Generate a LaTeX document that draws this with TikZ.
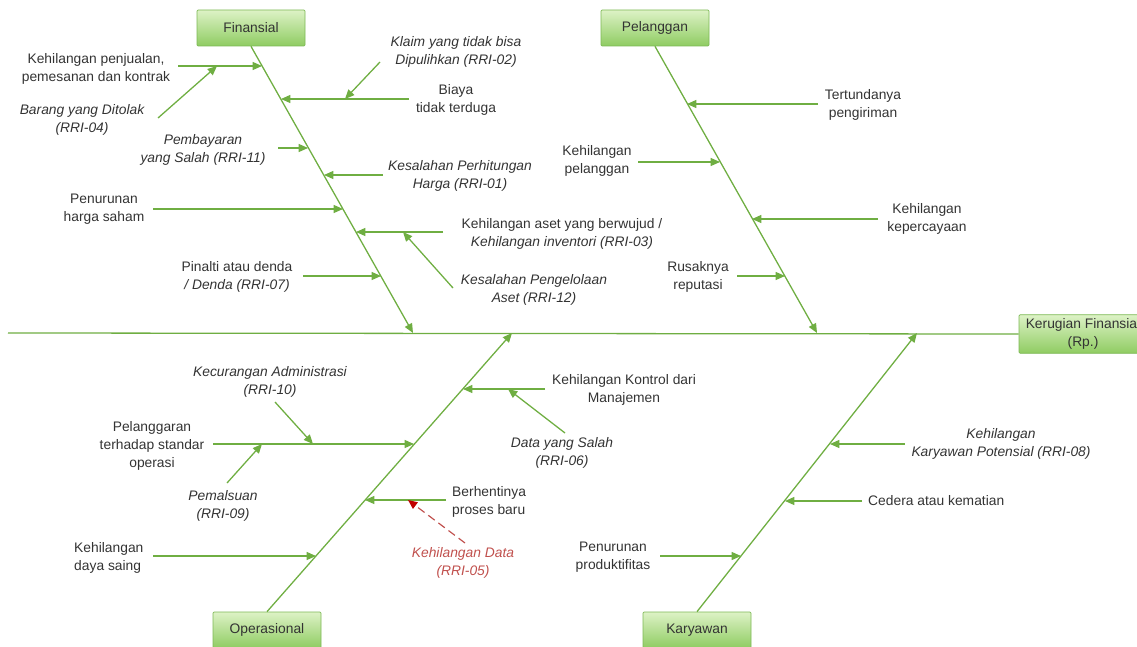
\documentclass[tikz,border=0pt]{standalone}
\usepackage{fontspec}
\setmainfont{Liberation Sans}
\usetikzlibrary{arrows.meta}
\definecolor{bone}{HTML}{6FAE42}
\definecolor{boxtop}{HTML}{DDF2C6}
\definecolor{boxbot}{HTML}{8FCC62}
\definecolor{boxline}{HTML}{7DB955}
\definecolor{txt}{HTML}{333333}
\definecolor{lost}{HTML}{C0504D}
\definecolor{losttip}{HTML}{C00000}
\tikzset{
	cat/.style={draw=boxline, line width=0.6pt, top color=boxtop, bottom color=boxbot, rounded corners=1pt, minimum width=32.4mm, minimum height=10.8mm, align=center, text=txt, font=\fontsize{11.8}{15.3}\selectfont},
	lbl/.style={text=txt, align=center, inner sep=0pt, font=\fontsize{11.8}{15.3}\selectfont},
	ital/.style={lbl, font=\fontsize{11.8}{15.3}\selectfont\itshape},
	boneline/.style={draw=bone, line width=1.1pt},
	bonearrow/.style={boneline, -{Triangle[length=2.8mm,width=2.4mm]}},
	lostarrow/.style={draw=lost, line width=1pt, dash pattern=on 2.4mm off 1.4mm, -{Triangle[length=2.8mm,width=2.4mm,color=losttip]}}
}
\begin{document}
\begin{tikzpicture}[x=0.3mm, y=-0.3mm]
	\useasboundingbox (0,0) rectangle (1137,647);
	% boxes
	\node[cat] (fin) at (251,28) {Finansial};
	\node[cat] (pel) at (655,28) {Pelanggan};
	\node[cat] (ops) at (267,630) {Operasional};
	\node[cat] (kar) at (697,630) {Karyawan};
	\node[cat, minimum width=38.4mm] (res) at (1083,334) {Kerugian Finansial\\(Rp.)};
	% spine and bones
	\coordinate (spS) at (8,333);
	\coordinate (finE) at (413,333);
	\coordinate (pelE) at (817,333);
	\coordinate (opsE) at (512,333);
	\coordinate (karE) at (917,333);
	\draw[boneline] (spS) -- (res.west);
	\draw[bonearrow] (fin.south) -- (finE);
	\draw[bonearrow] (pel.south) -- (pelE);
	\draw[bonearrow] (ops.north) -- (opsE);
	\draw[bonearrow] (kar.north) -- (karE);
	% Finansial
	\node[lbl] (kpen) at (96,69) {Kehilangan penjualan,\\pemesanan dan kontrak};
	\node[ital] (btol) at (82,120) {Barang yang Ditolak\\(RRI-04)};
	\node[lbl] (biaya) at (456,100) {Biaya\\tidak terduga};
	\node[ital] (klaim) at (456,52) {Klaim yang tidak bisa\\Dipulihkan (RRI-02)};
	\node[ital] (pemb) at (203,150) {Pembayaran\\yang Salah (RRI-11)};
	\node[ital] (kper) at (460,176) {Kesalahan Perhitungan\\Harga (RRI-01)};
	\node[lbl] (penh) at (104,209) {Penurunan\\harga saham};
	\node[lbl] (kaset) at (562,234) {Kehilangan aset yang berwujud /\\\textit{Kehilangan inventori (RRI-03)}};
	\node[ital] (kpeng) at (534,290) {Kesalahan Pengelolaan\\Aset (RRI-12)};
	\node[lbl] (pin) at (237,277) {Pinalti atau denda\\\textit{/ Denda (RRI-07)}};
	\coordinate (kpenT) at (178,66);
	\coordinate (kpenH) at (262,66);
	\coordinate (btolT) at (158,118);
	\coordinate (btolH) at (217,66);
	\coordinate (biayaT) at (409,99);
	\coordinate (biayaH) at (281,99);
	\coordinate (klaimT) at (380,62);
	\coordinate (klaimH) at (345,99);
	\coordinate (pembT) at (278,148);
	\coordinate (pembH) at (308,148);
	\coordinate (kperT) at (383,175);
	\coordinate (kperH) at (324,175);
	\coordinate (penhT) at (153,209);
	\coordinate (penhH) at (343,209);
	\coordinate (kasetT) at (443,232);
	\coordinate (kasetH) at (356,232);
	\coordinate (kpengT) at (453,288);
	\coordinate (kpengH) at (403,232);
	\coordinate (pinT) at (303,276);
	\coordinate (pinH) at (381,276);
	\draw[bonearrow] (kpenT) -- (kpenH);
	\draw[bonearrow] (btolT) -- (btolH);
	\draw[bonearrow] (biayaT) -- (biayaH);
	\draw[bonearrow] (klaimT) -- (klaimH);
	\draw[bonearrow] (pembT) -- (pembH);
	\draw[bonearrow] (kperT) -- (kperH);
	\draw[bonearrow] (penhT) -- (penhH);
	\draw[bonearrow] (kasetT) -- (kasetH);
	\draw[bonearrow] (kpengT) -- (kpengH);
	\draw[bonearrow] (pinT) -- (pinH);
	% Pelanggan
	\node[lbl] (tert) at (863,105) {Tertundanya\\pengiriman};
	\node[lbl] (kpel) at (597,161) {Kehilangan\\pelanggan};
	\node[lbl] (kkep) at (927,219) {Kehilangan\\kepercayaan};
	\node[lbl] (rusak) at (698,277) {Rusaknya\\reputasi};
	\coordinate (tertT) at (818,104);
	\coordinate (tertH) at (687,104);
	\coordinate (kpelT) at (638,162);
	\coordinate (kpelH) at (720,162);
	\coordinate (kkepT) at (878,219);
	\coordinate (kkepH) at (752,219);
	\coordinate (rusakT) at (737,276);
	\coordinate (rusakH) at (785,276);
	\draw[bonearrow] (tertT) -- (tertH);
	\draw[bonearrow] (kpelT) -- (kpelH);
	\draw[bonearrow] (kkepT) -- (kkepH);
	\draw[bonearrow] (rusakT) -- (rusakH);
	% Operasional
	\node[lbl] (plg) at (152,446) {Pelanggaran\\terhadap standar\\operasi};
	\node[ital] (kadm) at (270,382) {Kecurangan Administrasi\\(RRI-10)};
	\node[ital] (pmal) at (223,506) {Pemalsuan\\(RRI-09)};
	\node[lbl] (kkon) at (624,390) {Kehilangan Kontrol dari\\Manajemen};
	\node[ital] (dsal) at (562,453) {Data yang Salah\\(RRI-06)};
	\node[lbl, align=left, anchor=west] (berh) at (452,502) {Berhentinya\\proses baru};
	\node[ital, text=lost] (kdata) at (463,563) {Kehilangan Data\\(RRI-05)};
	\node[lbl, align=left, anchor=west] (kdaya) at (74,558) {Kehilangan\\daya saing};
	\coordinate (plgT) at (213,444);
	\coordinate (plgH) at (414,444);
	\coordinate (kadmT) at (275,402);
	\coordinate (kadmH) at (313,444);
	\coordinate (pmalT) at (227,483);
	\coordinate (pmalH) at (262,444);
	\coordinate (kkonT) at (545,389);
	\coordinate (kkonH) at (463,389);
	\coordinate (dsalT) at (565,433);
	\coordinate (dsalH) at (508,389);
	\coordinate (berhT) at (446,500);
	\coordinate (berhH) at (365,500);
	\coordinate (kdataT) at (465,543);
	\coordinate (kdataH) at (408,500);
	\coordinate (kdayaT) at (153,556);
	\coordinate (kdayaH) at (316,556);
	\draw[bonearrow] (plgT) -- (plgH);
	\draw[bonearrow] (kadmT) -- (kadmH);
	\draw[bonearrow] (pmalT) -- (pmalH);
	\draw[bonearrow] (kkonT) -- (kkonH);
	\draw[bonearrow] (dsalT) -- (dsalH);
	\draw[bonearrow] (berhT) -- (berhH);
	\draw[lostarrow] (kdataT) -- (kdataH);
	\draw[bonearrow] (kdayaT) -- (kdayaH);
	% Karyawan
	\node[ital] (kkar) at (1001,444) {Kehilangan\\Karyawan Potensial (RRI-08)};
	\node[lbl, anchor=west] (ced) at (868,501) {Cedera atau kematian};
	\node[lbl] (penp) at (613,557) {Penurunan\\produktifitas};
	\coordinate (kkarT) at (905,444);
	\coordinate (kkarH) at (830,444);
	\coordinate (cedT) at (862,501);
	\coordinate (cedH) at (785,501);
	\coordinate (penpT) at (660,556);
	\coordinate (penpH) at (741,556);
	\draw[bonearrow] (kkarT) -- (kkarH);
	\draw[bonearrow] (cedT) -- (cedH);
	\draw[bonearrow] (penpT) -- (penpH);
\end{tikzpicture}
\end{document}
